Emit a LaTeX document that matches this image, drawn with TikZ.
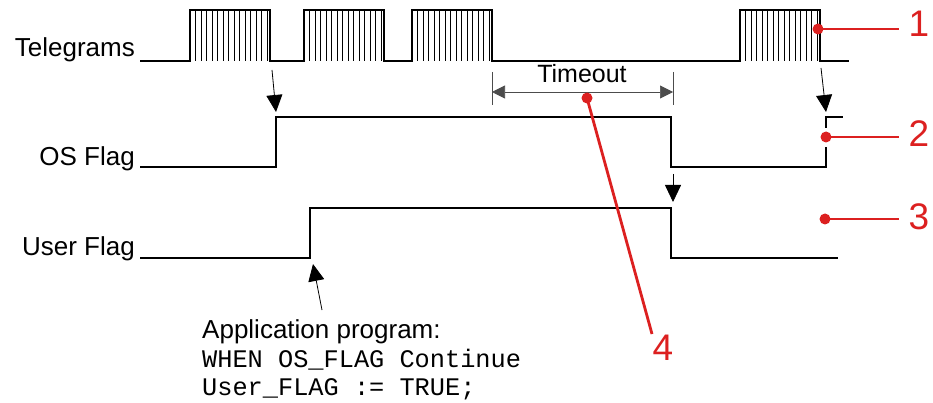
\documentclass[tikz,border=0pt]{standalone}
\usepackage{fontspec}
\setmainfont{Liberation Sans}
\setmonofont{Liberation Mono}
\usetikzlibrary{arrows.meta}
\definecolor{markred}{RGB}{220,32,32}
\begin{document}
\begin{tikzpicture}[x=1pt,y=-1pt,
  signal/.style={line width=1.6pt,line join=miter},
  hatch/.style={line width=0.7pt},
  trigger/.style={line width=0.8pt,-{Triangle[length=17pt,width=16pt]}},
  dimline/.style={line width=0.7pt,black!70},
  callout/.style={markred,line width=2.8pt},
  dot/.style={circle,fill=markred,inner sep=0pt,minimum size=11pt},
  num/.style={text=markred,font=\fontsize{37}{40}\selectfont,inner sep=0pt},
  lbl/.style={font=\fontsize{26}{30}\selectfont,anchor=base east,inner sep=0pt},
  code/.style={font=\ttfamily\fontsize{25.3}{29}\selectfont,anchor=base west,inner sep=0pt}]
\useasboundingbox (0,0) rectangle (933,403);
% signal names
\node[lbl] (tgname) at (135,57) {Telegrams};
\node[lbl] (osname) at (135,166) {OS Flag};
\node[lbl] (usname) at (135,255) {User Flag};
% telegram line
\draw[signal] (140,61) -- (190,61) |- (270,10) |- (304,61) |- (384,10) |- (412,61)
  |- (492,10) |- (740,61) |- (820,10) |- (849,61);
\foreach \s in {190,304,412,740}
  \foreach \k in {1,...,14}
    \draw[hatch] (\s+5.5*\k,10) -- ++(0,51);
% OS flag
\draw[signal] (140,167) -- (276,167) |- (671,117) |- (826,167) -- (826,147);
\draw[signal] (826,128) |- (843,117);
% user flag
\draw[signal] (140,258) -- (310,258) |- (671,208) |- (838,258);
% triggers
\coordinate (fall1) at (272,70);
\coordinate (osrise) at (276,112);
\coordinate (fall4) at (821,68);
\coordinate (osrise2) at (826,112);
\coordinate (osfall) at (673,174);
\coordinate (usfall) at (673,202);
\coordinate (progtip) at (313,264);
\coordinate (progfoot) at (322,310);
\draw[trigger] (fall1) -- (osrise);
\draw[trigger] (fall4) -- (osrise2);
\draw[trigger] (osfall) -- (usfall);
\draw[trigger] (progfoot) -- (progtip);
% timeout
\draw[dimline] (492,72) -- (492,105);
\draw[dimline] (673,72) -- (673,105);
\coordinate (tl) at (492,92);
\coordinate (tr) at (673,92);
\draw[dimline,{Triangle[length=13pt,width=13pt]}-{Triangle[length=13pt,width=13pt]}] (tl) -- (tr);
\node[font=\fontsize{25}{28}\selectfont,inner sep=0pt] (tmo) at (582,74) {Timeout};
% application program
\node[anchor=base west,inner sep=0pt,font=\fontsize{26}{29}\selectfont] (prog) at (202,338) {Application program:};
\node[code] (code1) at (202,367) {WHEN OS\_FLAG Continue};
\node[code] (code2) at (202,395) {User\_FLAG := TRUE;};
% callouts
\node[dot] (d1) at (818,29) {};
\node[dot] (d2) at (826,137) {};
\node[dot] (d3) at (825,219) {};
\node[dot] (d4) at (587,98) {};
\node[num] (n1) at (919,24) {1};
\node[num] (n2) at (919,134) {2};
\node[num] (n3) at (919,217) {3};
\node[num] (n4) at (663,348) {4};
\draw[callout] (d1.center) -- (899,29);
\draw[callout] (d2.center) -- (899,137);
\draw[callout] (d3.center) -- (899,219);
\draw[callout] (d4.center) -- (652,334);
\end{tikzpicture}
\end{document}
